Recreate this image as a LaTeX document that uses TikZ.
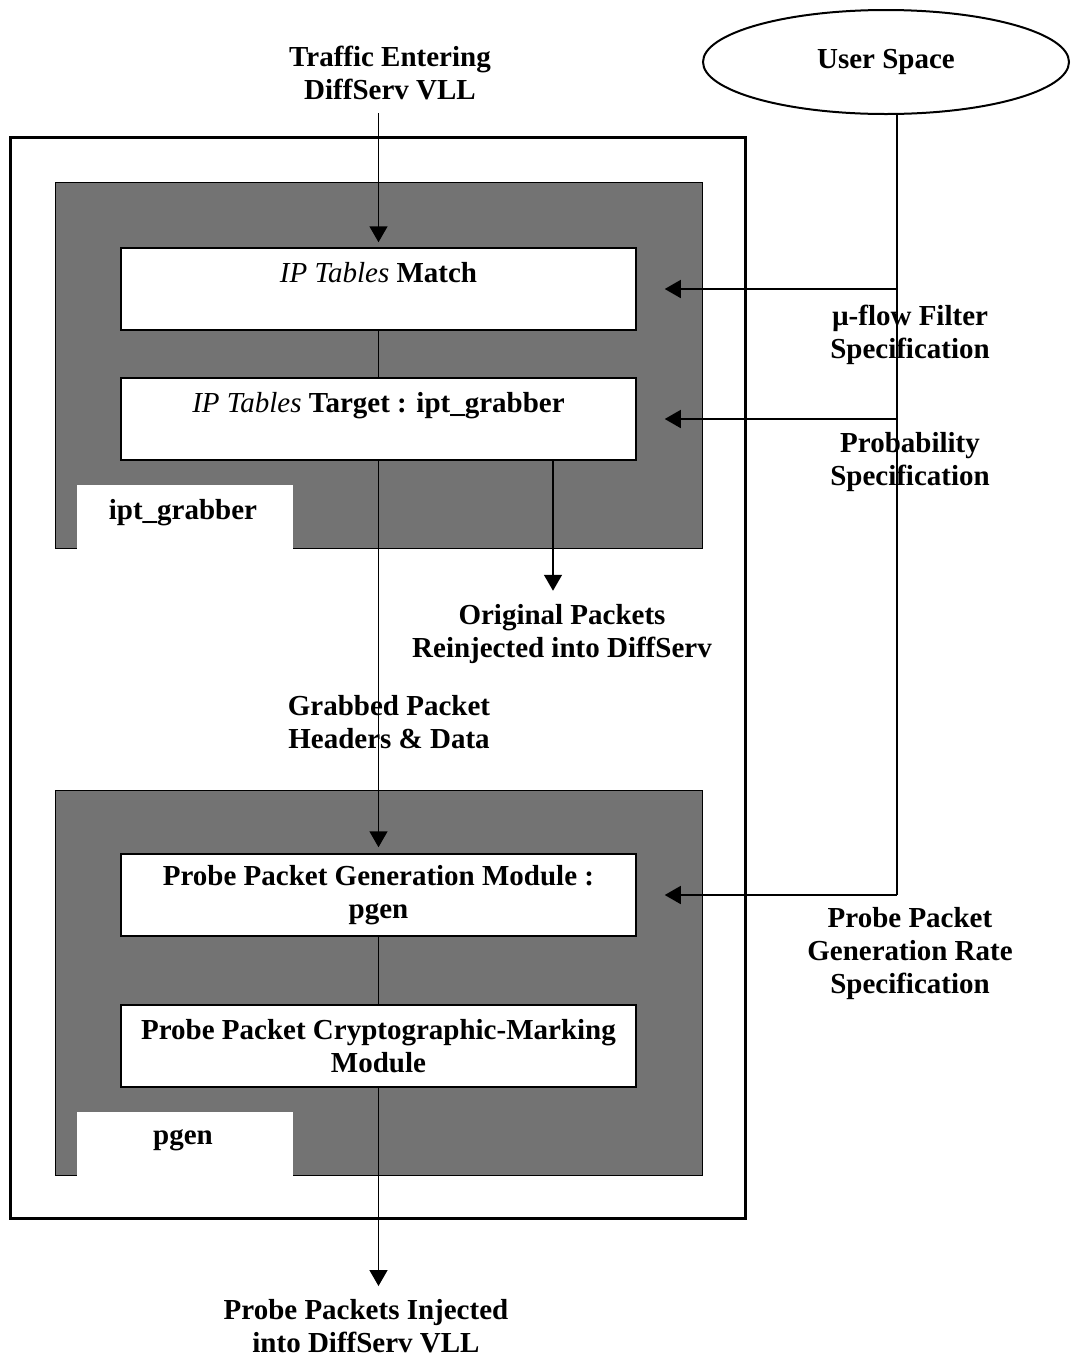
\documentclass[tikz,border=0pt]{standalone}
\usepackage{fontspec}
\setmainfont{Liberation Serif}
\usepackage{tikz}
\usetikzlibrary{arrows.meta,shapes.geometric}

\begin{document}
\begin{tikzpicture}[x=1pt,y=-1pt,
        font=\fontsize{29}{33}\selectfont\bfseries,
        modbox/.style={draw,line width=1.5pt,fill=white,minimum width=515pt,minimum height=82pt,align=center,inner sep=0pt},
        onerow/.style={text height=22pt,text depth=36pt},
        label/.style={align=center,inner sep=0pt},
        arr/.style={line width=1.5pt,-{Triangle[length=16pt,width=18pt]}},
        lane/.style={draw=black,line width=1pt,fill=black!55}]
        \useasboundingbox (0,0) rectangle (1072,1361);

        % outer frame
        \draw[line width=3pt] (10,137) rectangle (745,1218);

        % shaded module areas with white notches
        \draw[lane] (55,182) rectangle (702,548);
        \fill[white] (77,485) rectangle (293,549.5);
        \draw[lane] (55,790) rectangle (702,1175);
        \fill[white] (77,1112) rectangle (293,1176.5);

        \node[label] (iptname) at (183,513) {ipt\_grabber};
        \node[label] (pgenname) at (183,1140) {pgen};

        % modules
        \node[modbox,onerow] (match) at (378.5,289) {\textit{\mdseries IP Tables} Match};
        \node[modbox,onerow] (target) at (378.5,419) {\textit{\mdseries IP Tables} Target : ipt\_grabber};
        \node[modbox] (pgen) at (378.5,895) {Probe Packet Generation Module :\\pgen};
        \node[modbox] (crypto) at (378.5,1046) {Probe Packet Cryptographic-Marking\\Module};

        % user space
        \node[draw,ellipse,line width=2pt,minimum width=366pt,minimum height=104pt] (user) at (886,62) {User Space};
        \coordinate (spine) at (897,895);

        % labels
        \node[label] (traffic) at (390,73) {Traffic Entering\\DiffServ VLL};
        \node[label] (orig) at (562,634) {Original Packets\\Reinjected into DiffServ};
        \node[label] (grabbed) at (389,722) {Grabbed Packet\\Headers \& Data};
        \node[label] (inject) at (366,1326) {Probe Packets Injected\\into DiffServ VLL};
        \node[label] (muflow) at (910,335) {µ-flow Filter\\Specification};
        \node[label] (prob) at (910,462) {Probability\\Specification};
        \node[label] (rate) at (910,954) {Probe Packet\\Generation Rate\\Specification};

        % packet path
        \draw[arr,shorten >=5pt] (traffic.south -| match.north) ++(0,13) -- (match.north);
        \draw[line width=1.5pt] (match.south) -- (target.north);
        \draw[arr,shorten >=6pt] (target.south) -- (pgen.north);
        \draw[arr] ([xshift=174.5pt]target.south) -- ++(0,130);
        \draw[line width=1.5pt] (pgen.south) -- (crypto.south |- crypto.north);
        \draw[arr,shorten >=13pt] (crypto.south) -- (crypto.south |- inject.north);

        % control from user space
        \draw[line width=2pt] (user.south -| spine) -- (spine);
        \draw[arr,line width=1.5pt] (spine |- match.east) -- ([xshift=28pt]match.east);
        \draw[arr,line width=1.5pt] (spine |- target.east) -- ([xshift=28pt]target.east);
        \draw[arr,line width=1.5pt] (spine) -- ([xshift=28pt]pgen.east);
    \end{tikzpicture}
\end{document}
